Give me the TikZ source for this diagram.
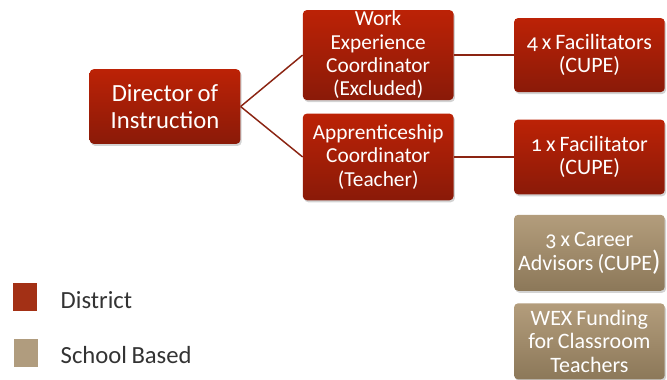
\documentclass[tikz,border=0pt]{standalone}
\usepackage{fontspec}
\setmainfont{Carlito}[Numbers=OldStyle, WordSpace=0.8]
\usetikzlibrary{positioning,shadows}

\definecolor{distTop}{HTML}{BC2206}
\definecolor{distBot}{HTML}{8A1A08}
\definecolor{distKey}{HTML}{A33015}
\definecolor{schTop}{HTML}{B39D7C}
\definecolor{schBot}{HTML}{8C7859}
\definecolor{schKey}{HTML}{B09C7E}
\definecolor{linkCol}{HTML}{8B2412}
\definecolor{keyText}{HTML}{333333}

\begin{document}
\begin{tikzpicture}[
  box/.style={rounded corners=3pt, text=white, align=center, minimum width=113pt,
    inner sep=0pt, drop shadow={opacity=0.35, shadow xshift=1pt, shadow yshift=-1.5pt}},
  dist/.style={box, top color=distTop, bottom color=distBot},
  sch/.style={box, top color=schTop, bottom color=schBot},
  link/.style={draw=linkCol, line width=1.1pt},
  keybox/.style={minimum width=18pt, minimum height=21pt, inner sep=0pt},
  keytext/.style={anchor=west, text=keyText, font=\fontsize{18.5}{20}\selectfont}]
\useasboundingbox (0,0) rectangle (500.25pt,-284.25pt);
\node[dist, minimum height=56pt, font=\fontsize{18.5}{20.5}\selectfont] (dir) at (123.75pt,-79.9pt) {Director of\\Instruction};
\node[dist, minimum height=67.5pt, font=\fontsize{16}{17.5}\selectfont, right=46.5pt of dir, yshift=38.6pt] (wex) {Work\\Experience\\Coordinator\\(Excluded)};
\node[dist, minimum height=65pt, font=\fontsize{16}{17.5}\selectfont, below=9.75pt of wex] (app) {Apprenticeship\\Coordinator\\(Teacher)};
\node[dist, minimum height=55.5pt, font=\fontsize{16.5}{17.5}\selectfont, right=45pt of wex] (fac4) {4 x Facilitators\\(CUPE)};
\node[dist, minimum height=56pt, font=\fontsize{16.5}{17.5}\selectfont, right=45pt of app] (fac1) {1 x Facilitator\\(CUPE)};
\node[sch, minimum height=57pt, font=\fontsize{16.5}{18}\selectfont, below=15pt of fac1] (car) {3 x Career\\Advisors (CUPE{\fontsize{21}{18}\selectfont)}};
\node[sch, minimum height=57pt, font=\fontsize{16.5}{17.5}\selectfont, below=9pt of car] (fund) {WEX Funding\\for Classroom\\Teachers};

\draw[link] (dir.east) -- (wex.west);
\draw[link] (dir.east) -- (app.west);
\draw[link] (wex) -- (fac4);
\draw[link] (app) -- (fac1);

% key
\node[keybox, fill=distKey] (keyd) at (18.75pt,-222.75pt) {};
\node[keybox, fill=schKey] (keys) at (19.5pt,-264.4pt) {};
\node[keytext] (keydt) at (42pt,-225pt) {District};
\node[keytext] (keyst) at (42pt,-266.25pt) {School Based};
\end{tikzpicture}
\end{document}
